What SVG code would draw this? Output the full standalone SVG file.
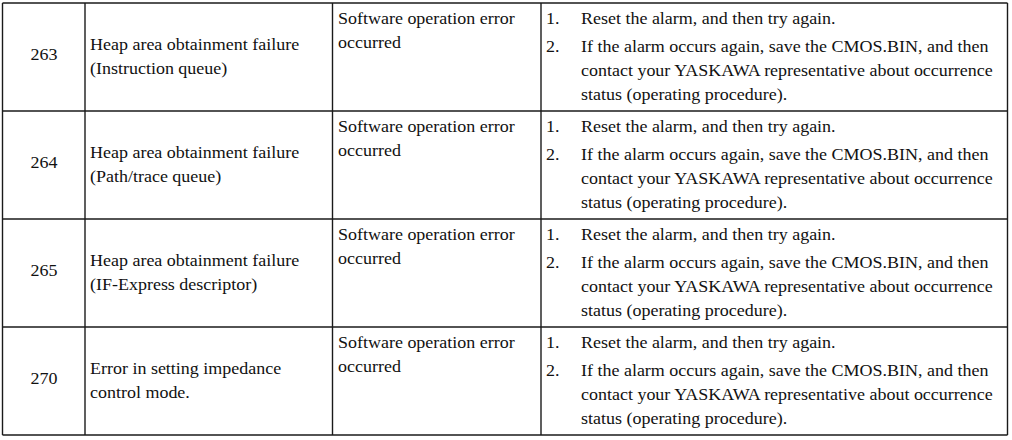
<svg xmlns="http://www.w3.org/2000/svg" width="1012" height="440" viewBox="0 0 1012 440">
<style>
text{font-family:"Liberation Serif","Times New Roman",serif;font-size:16px;fill:#111}
.n{text-anchor:middle}
.g line{stroke:#1a1a1a;stroke-width:1.4}
</style>
<rect width="1012" height="440" fill="#fff"/>
<g id="grid" class="g">
<line x1="2.5" y1="3" x2="1007.5" y2="3"/>
<line x1="2.5" y1="111" x2="1007.5" y2="111"/>
<line x1="2.5" y1="219" x2="1007.5" y2="219"/>
<line x1="2.5" y1="327" x2="1007.5" y2="327"/>
<line x1="2.5" y1="435" x2="1007.5" y2="435"/>
<line x1="2.5" y1="3" x2="2.5" y2="435"/>
<line x1="85" y1="3" x2="85" y2="435"/>
<line x1="332.5" y1="3" x2="332.5" y2="435"/>
<line x1="541" y1="3" x2="541" y2="435"/>
<line x1="1007.5" y1="3" x2="1007.5" y2="435"/>
</g>
<g id="row263" transform="scale(1.124 1)">
<text class="n" x="39.15" y="60">263</text>
<text x="80.07" y="50">Heap area obtainment failure</text>
<text x="80.07" y="74">(Instruction queue)</text>
<text x="300.71" y="24">Software operation error</text>
<text x="300.71" y="48">occurred</text>
<text x="485.77" y="24">1.</text><text x="516.9" y="24">Reset the alarm, and then try again.</text>
<text x="485.77" y="52">2.</text><text x="516.9" y="52">If the alarm occurs again, save the CMOS.BIN, and then</text>
<text x="516.9" y="76">contact your YASKAWA representative about occurrence</text>
<text x="516.9" y="100">status (operating procedure).</text>
</g>
<g id="row264" transform="scale(1.124 1)">
<text class="n" x="39.15" y="168">264</text>
<text x="80.07" y="158">Heap area obtainment failure</text>
<text x="80.07" y="182">(Path/trace queue)</text>
<text x="300.71" y="132">Software operation error</text>
<text x="300.71" y="156">occurred</text>
<text x="485.77" y="132">1.</text><text x="516.9" y="132">Reset the alarm, and then try again.</text>
<text x="485.77" y="160">2.</text><text x="516.9" y="160">If the alarm occurs again, save the CMOS.BIN, and then</text>
<text x="516.9" y="184">contact your YASKAWA representative about occurrence</text>
<text x="516.9" y="208">status (operating procedure).</text>
</g>
<g id="row265" transform="scale(1.124 1)">
<text class="n" x="39.15" y="276">265</text>
<text x="80.07" y="266">Heap area obtainment failure</text>
<text x="80.07" y="290">(IF-Express descriptor)</text>
<text x="300.71" y="240">Software operation error</text>
<text x="300.71" y="264">occurred</text>
<text x="485.77" y="240">1.</text><text x="516.9" y="240">Reset the alarm, and then try again.</text>
<text x="485.77" y="268">2.</text><text x="516.9" y="268">If the alarm occurs again, save the CMOS.BIN, and then</text>
<text x="516.9" y="292">contact your YASKAWA representative about occurrence</text>
<text x="516.9" y="316">status (operating procedure).</text>
</g>
<g id="row270" transform="scale(1.124 1)">
<text class="n" x="39.15" y="384">270</text>
<text x="80.07" y="374">Error in setting impedance</text>
<text x="80.07" y="398">control mode.</text>
<text x="300.71" y="348">Software operation error</text>
<text x="300.71" y="372">occurred</text>
<text x="485.77" y="348">1.</text><text x="516.9" y="348">Reset the alarm, and then try again.</text>
<text x="485.77" y="376">2.</text><text x="516.9" y="376">If the alarm occurs again, save the CMOS.BIN, and then</text>
<text x="516.9" y="400">contact your YASKAWA representative about occurrence</text>
<text x="516.9" y="424">status (operating procedure).</text>
</g>
</svg>
